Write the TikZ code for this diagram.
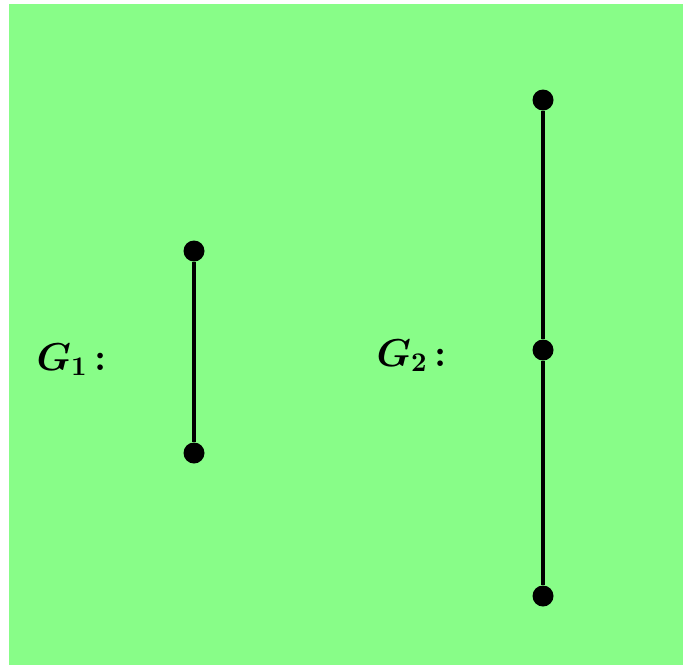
\documentclass[tikz,border=0pt]{standalone}
\usepackage{amsmath}
\begin{document}
\begin{tikzpicture}[x=1pt,y=-1pt,
  vert/.style={circle,fill=black,inner sep=0pt,minimum size=21pt},
  edge/.style={line width=4pt},
  lbl/.style={font=\Large\boldmath,scale=2.7,inner sep=0pt}]
\definecolor{bg}{RGB}{136,253,136}
\useasboundingbox (0,0) rectangle (683,665);
\fill[white] (0,0) rectangle (683,665);
\fill[bg] (9,4) rectangle (683,665);
\node[vert] (a1) at (194,251) {};
\node[vert] (a2) at (194,453) {};
\node[vert] (b1) at (543,100) {};
\node[vert] (b2) at (543,350) {};
\node[vert] (b3) at (543,596) {};
\draw[edge] (a1) -- (a2);
\draw[edge] (b1) -- (b2);
\draw[edge] (b2) -- (b3);
\node[lbl,anchor=base west] (g1) at (36,370) {$G_1$\,\textbf{:}};
\node[lbl,anchor=base west] (g2) at (376,366) {$G_2$\,\textbf{:}};
\end{tikzpicture}
\end{document}
